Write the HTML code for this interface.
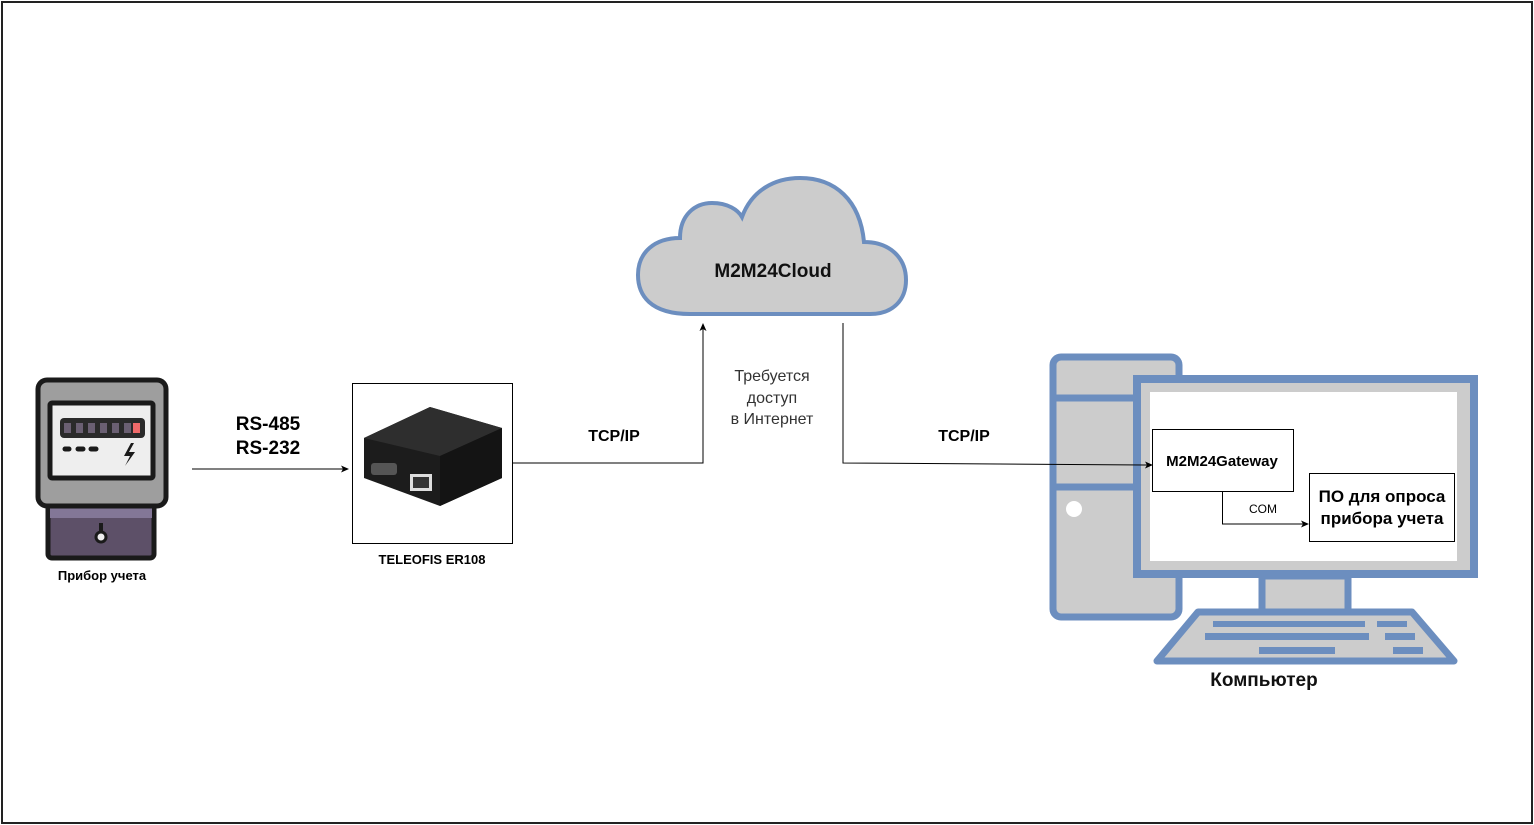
<!DOCTYPE html>
<html><head><meta charset="utf-8"><style>
html,body{margin:0;padding:0;background:#fff;}
svg{display:block;font-family:"Liberation Sans",Arial,sans-serif;}
</style></head><body>
<svg width="1534" height="825" viewBox="0 0 1534 825" xmlns="http://www.w3.org/2000/svg">
<defs>
<marker id="ar" markerWidth="8" markerHeight="8" refX="7" refY="4" orient="auto" markerUnits="userSpaceOnUse"><path d="M0,0.5 L8,4 L0,7.5 L2,4 Z" fill="#000"/></marker>
</defs>
<rect x="2" y="2" width="1530" height="821" fill="#fff" stroke="#222" stroke-width="2"/>

<!-- meter -->
<g>
<rect x="48" y="503" width="106" height="55" rx="4" fill="#5d5068" stroke="#1a1a1a" stroke-width="5"/>
<rect x="50" y="508" width="102" height="10" fill="#837797"/>
<rect x="38" y="380" width="128" height="126" rx="9" fill="#9e9e9e" stroke="#1a1a1a" stroke-width="5"/>
<rect x="50" y="403" width="103" height="75" rx="2" fill="#eee" stroke="#1a1a1a" stroke-width="5"/>
<rect x="60" y="418" width="85" height="20" rx="4" fill="#2a2a2a"/>
<g fill="#6a5f72"><rect x="64" y="423" width="7" height="10"/><rect x="76" y="423" width="7" height="10"/><rect x="88" y="423" width="7" height="10"/><rect x="100" y="423" width="7" height="10"/><rect x="112" y="423" width="7" height="10"/><rect x="124" y="423" width="7" height="10"/></g>
<rect x="133" y="423" width="7" height="10" fill="#f06a6a"/>
<g stroke="#1a1a1a" stroke-width="5" stroke-linecap="round"><line x1="65" y1="449" x2="69" y2="449"/><line x1="78" y1="449" x2="83" y2="449"/><line x1="91" y1="449" x2="96" y2="449"/></g>
<path d="M131,443 L124,456 L130,456 L125,466 L135,452 L129,452 L134,443 Z" fill="#1a1a1a"/>
<circle cx="101" cy="537" r="5" fill="#eee" stroke="#1a1a1a" stroke-width="3"/>
<line x1="101" y1="523" x2="101" y2="531" stroke="#1a1a1a" stroke-width="4"/>
<text x="102" y="580" font-size="13" font-weight="bold" text-anchor="middle">Прибор учета</text>
</g>

<!-- RS link -->
<line x1="192" y1="469" x2="348" y2="469" stroke="#000" stroke-width="1" marker-end="url(#ar)"/>
<text x="268" y="430" font-size="19" font-weight="bold" text-anchor="middle">RS-485</text>
<text x="268" y="454" font-size="19" font-weight="bold" text-anchor="middle">RS-232</text>

<!-- router box -->
<rect x="352.5" y="383.5" width="160" height="160" fill="#fff" stroke="#000" stroke-width="1"/>
<path d="M364,438 L430,407 L502,428 L502,478 L440,506 L364,478 Z" fill="#1c1c1c"/>
<path d="M364,438 L430,407 L502,428 L440,456 Z" fill="#2e2e2e"/>
<path d="M440,456 L502,428 L502,478 L440,506 Z" fill="#141414"/>
<rect x="371" y="463" width="26" height="12" rx="3" fill="#555"/>
<rect x="410" y="474" width="22" height="17" fill="#ddd"/>
<rect x="413" y="477" width="16" height="11" fill="#333"/>
<text x="432" y="564" font-size="13" font-weight="bold" text-anchor="middle">TELEOFIS ER108</text>

<!-- router to cloud -->
<polyline points="512,463 703,463 703,324" fill="none" stroke="#000" stroke-width="1" marker-end="url(#ar)"/>
<text x="614" y="441" font-size="16" font-weight="bold" text-anchor="middle">TCP/IP</text>
<text x="772" y="381" font-size="16" fill="#333" text-anchor="middle">Требуется</text>
<text x="772" y="403" font-size="16" fill="#333" text-anchor="middle">доступ</text>
<text x="772" y="424" font-size="16" fill="#333" text-anchor="middle">в Интернет</text>

<!-- cloud -->
<path d="M690 314 C 650 314 638 295 638 275 C 638 252 655 238 680 238 C 680 215 695 203 712 203 C 728 203 738 210 742 217 C 752 190 775 178 800 178 C 835 178 860 200 864 242 C 890 242 906 258 906 280 C 906 300 893 314 870 314 Z" fill="#cccccc" stroke="#6c8ebf" stroke-width="4"/>
<text x="773" y="277" font-size="19" font-weight="bold" fill="#111" text-anchor="middle">M2M24Cloud</text>

<text x="964" y="441" font-size="16" font-weight="bold" text-anchor="middle">TCP/IP</text>

<!-- computer -->
<rect x="1053" y="357" width="126" height="260" rx="8" fill="#cccccc" stroke="#6c8ebf" stroke-width="7"/>
<line x1="1053" y1="398" x2="1136" y2="398" stroke="#6c8ebf" stroke-width="7"/>
<line x1="1053" y1="487" x2="1136" y2="487" stroke="#6c8ebf" stroke-width="7"/>
<circle cx="1074" cy="509" r="8" fill="#fff"/>
<rect x="1262" y="576" width="86" height="36" fill="#cccccc" stroke="#6c8ebf" stroke-width="7"/>
<path d="M1198,612 L1412,612 L1454,661 L1157,661 Z" fill="#cccccc" stroke="#6c8ebf" stroke-width="7" stroke-linejoin="round"/>
<g fill="#6c8ebf"><rect x="1213" y="621" width="152" height="6"/><rect x="1377" y="621" width="30" height="6"/><rect x="1205" y="633" width="164" height="7"/><rect x="1385" y="633" width="30" height="7"/><rect x="1259" y="647" width="76" height="7"/><rect x="1393" y="647" width="30" height="7"/></g>
<rect x="1137" y="379" width="337" height="195" fill="#cccccc" stroke="#6c8ebf" stroke-width="8"/>
<rect x="1150" y="392" width="307" height="169" fill="#fff"/>
<text x="1264" y="686" font-size="19" font-weight="bold" fill="#111" text-anchor="middle">Компьютер</text>

<!-- cloud to gateway -->
<polyline points="843,323 843,463 1152,465" fill="none" stroke="#000" stroke-width="1" marker-end="url(#ar)"/>

<rect x="1152.5" y="429.5" width="141" height="62" fill="#fff" stroke="#000" stroke-width="1"/>
<text x="1222" y="466" font-size="15" font-weight="bold" text-anchor="middle">M2M24Gateway</text>
<rect x="1309.5" y="473.5" width="145" height="68" fill="#fff" stroke="#000" stroke-width="1"/>
<text x="1382" y="502" font-size="17" font-weight="bold" text-anchor="middle">ПО для опроса</text>
<text x="1382" y="524" font-size="17" font-weight="bold" text-anchor="middle">прибора учета</text>
<polyline points="1222.5,491 1222.5,524 1308,524" fill="none" stroke="#000" stroke-width="1" marker-end="url(#ar)"/>
<text x="1263" y="513" font-size="12" text-anchor="middle">COM</text>
</svg>
</body></html>
